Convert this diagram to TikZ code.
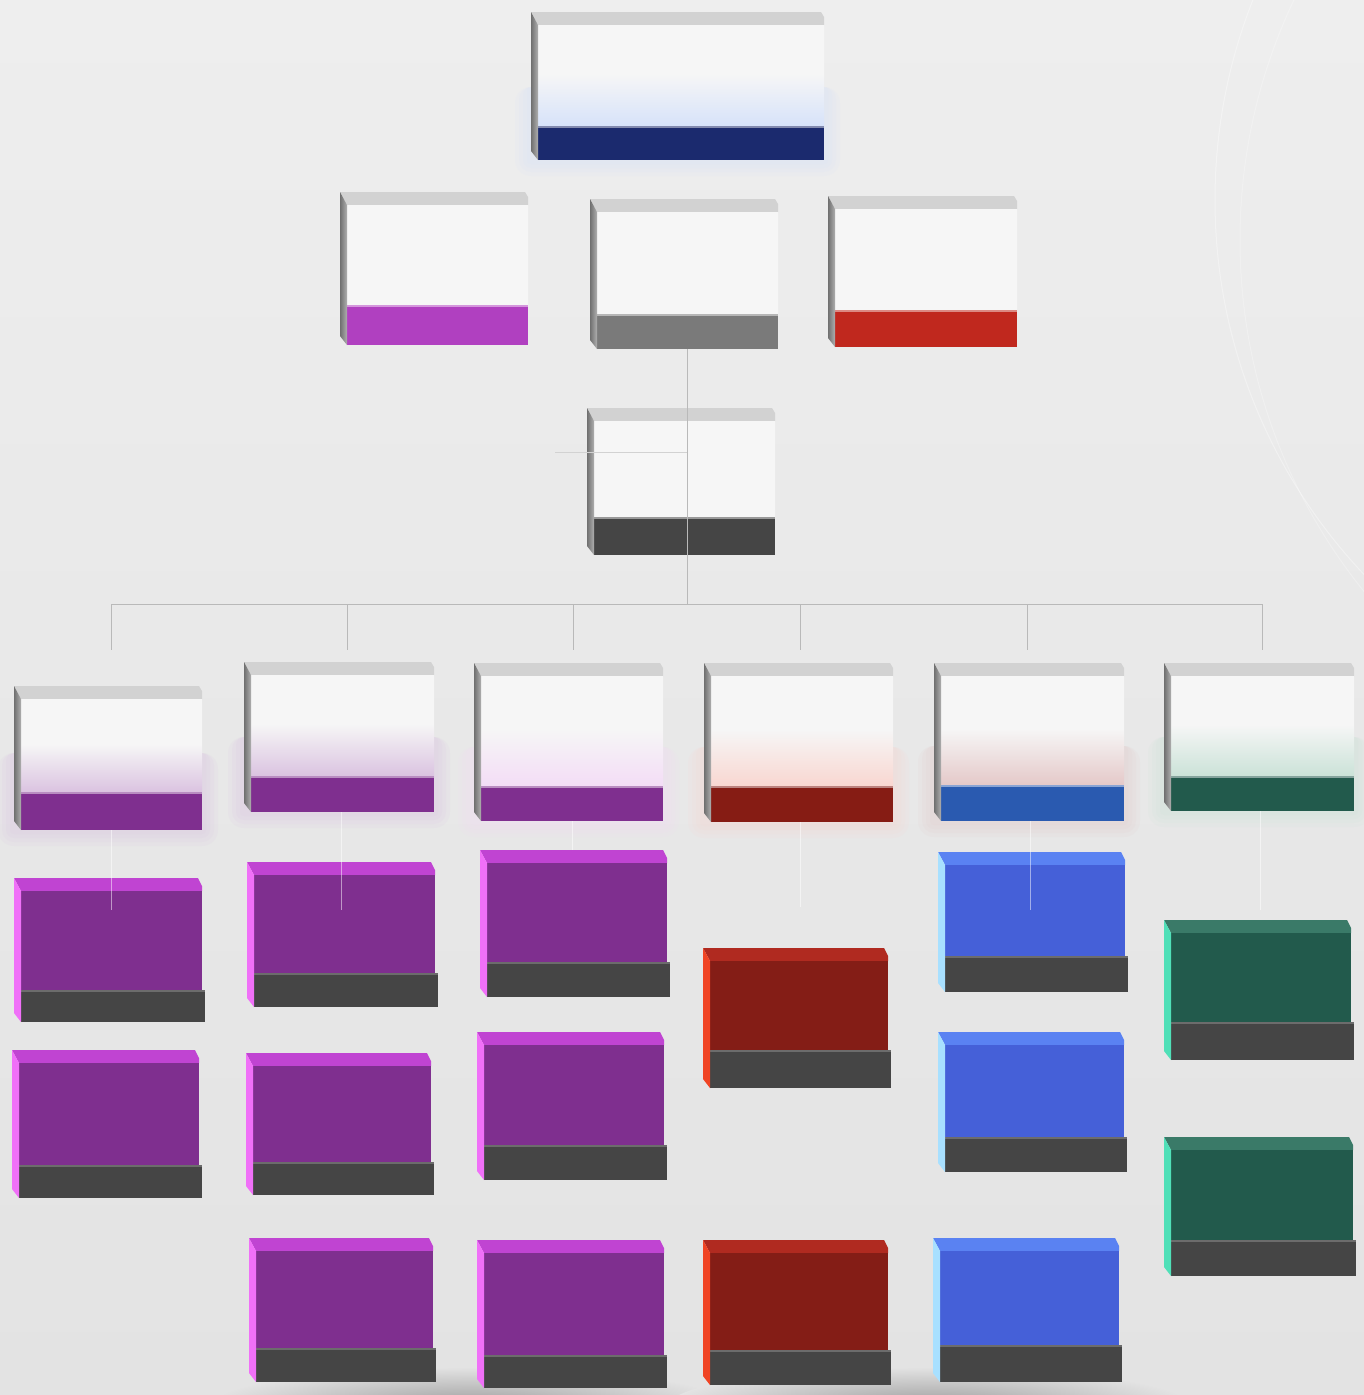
\documentclass[tikz,border=0pt]{standalone}
\usetikzlibrary{calc}
\definecolor{bgc}{HTML}{EAEAEA}
\definecolor{bgtop}{HTML}{EEEEEE}
\definecolor{bgbot}{HTML}{E3E3E3}
\definecolor{facew}{HTML}{F6F6F6}
\definecolor{topg}{HTML}{D2D2D2}
\definecolor{leftg}{HTML}{8C8C8C}
\definecolor{barg}{HTML}{454545}
\definecolor{barhl}{HTML}{6C6C6C}
\definecolor{tnavy}{HTML}{D6E2FA}
\definecolor{bnavy}{HTML}{1B2A6E}
\definecolor{bmag}{HTML}{B040C0}
\definecolor{bgray}{HTML}{7A7A7A}
\definecolor{bred2}{HTML}{C0281E}
\definecolor{tpur}{HTML}{DAC2E0}
\definecolor{tpurb}{HTML}{F3DCF6}
\definecolor{bpur}{HTML}{7F2F8F}
\definecolor{tred}{HTML}{F9D6D0}
\definecolor{bred}{HTML}{861C14}
\definecolor{tblu}{HTML}{E4C8C8}
\definecolor{bblu}{HTML}{2A5AB0}
\definecolor{tgrn}{HTML}{CAE2D7}
\definecolor{bgrn}{HTML}{225A4C}
\definecolor{fpur}{HTML}{7F2F8F}
\definecolor{ppur}{HTML}{C044D2}
\definecolor{lpur}{HTML}{F070F8}
\definecolor{fred}{HTML}{841D16}
\definecolor{pred}{HTML}{B02A20}
\definecolor{lred}{HTML}{F04424}
\definecolor{fblu}{HTML}{4560D8}
\definecolor{pblu}{HTML}{5A82F2}
\definecolor{lblu}{HTML}{A8E0FF}
\definecolor{fgrn}{HTML}{225A4C}
\definecolor{pgrn}{HTML}{3A7A68}
\definecolor{lgrn}{HTML}{50E0B8}
\colorlet{tintc}{facew}
\pgfdeclareverticalshading[tintc,facew]{facegrad}{100bp}{color(0bp)=(tintc); color(25bp)=(tintc); color(51bp)=(facew); color(75bp)=(facew); color(100bp)=(facew)}
\tikzset{
  boxnode/.style={rectangle, inner sep=0pt, outer sep=0pt, draw=none},
  conn/.style={draw=gray!55, line width=0.9pt},
  connfaint/.style={draw=gray!35, line width=0.9pt},
  connlight/.style={draw=white, opacity=0.5, line width=0.9pt},
}
\def\glowop{0.12}
% header box: name, x1, y1, x2, y2, barY, tint, bar colour
\newcommand{\headbox}[8]{%
  \foreach \g in {16,12,8,4}{\fill[#7, opacity=\glowop, rounded corners=\g pt] ({#2-\g},{#6-40}) rectangle ({#4+\g},{#5+\g});}
  \node[boxnode, minimum width={(#4-#2)*1pt}, minimum height={(#5-#3)*1pt}] (#1) at ({(#2+#4)/2},{(#3+#5)/2}) {};
  \fill[topg] (#2,#3) -- ({#4-3},#3) -- (#4,{#3+5}) -- (#4,{#3+13}) -- ({#2+7},{#3+13}) -- cycle;
  \colorlet{tintc}{#7}%
  \shade[shading=facegrad] ({#2+7},{#3+13}) rectangle (#4,#6);
  \fill[#8] ({#2+7},#6) rectangle (#4,#5);
  \draw[#8!55!white, line width=1.2pt] ({#2+7},#6) -- (#4,#6);
  \shade[left color=leftg!80!black, right color=leftg!70!white] (#2,#3) -- ({#2+7},{#3+13}) -- ({#2+7},#5) -- (#2,{#5-9}) -- cycle;
}
% coloured unit box: name, x1, y1, x2, y2, barY, face, top, left
\newcommand{\unitbox}[9]{%
  \node[boxnode, minimum width={(#4-#2)*1pt}, minimum height={(#5-#3)*1pt}] (#1) at ({(#2+#4)/2},{(#3+#5)/2}) {};
  \fill[#8] (#2,#3) -- ({#4-4},#3) -- (#4,{#3+8}) -- (#4,{#3+13}) -- ({#2+7},{#3+13}) -- cycle;
  \fill[#7] ({#2+7},{#3+13}) rectangle (#4,#6);
  \fill[barg] ({#2+7},#6) rectangle ({#4+3},#5);
  \draw[barhl, line width=2pt] ({#2+7},{#6+1}) -- ({#4+3},{#6+1});
  \fill[#9] (#2,#3) -- ({#2+7},{#3+13}) -- ({#2+7},#5) -- (#2,{#5-9}) -- cycle;
}
\begin{document}
\begin{tikzpicture}[x=1pt,y=-1pt]
\useasboundingbox (0,0) rectangle (1364,1395);
\shade[top color=bgtop, bottom color=bgbot] (0,0) rectangle (1364,1395);
\begin{scope}
  \clip (0,0) rectangle (1364,1395);
  \shade[inner color=gray!75, outer color=bgbot] (470,1405) ellipse [x radius=260, y radius=38];
  \shade[inner color=gray!75, outer color=bgbot] (930,1405) ellipse [x radius=260, y radius=38];
  \draw[white, opacity=0.35, line width=1pt] (1760,200) circle [radius=545];
  \draw[white, opacity=0.25, line width=1pt] (1800,240) circle [radius=560];
\end{scope}

% top level
\headbox{ceo}{531}{12}{824}{160}{127}{tnavy}{bnavy}
% second level
\def\glowop{0}
\headbox{sa}{340}{192}{528}{345}{306}{facew}{bmag}
\headbox{sb}{590}{199}{778}{349}{315}{facew}{bgray}
\headbox{sc}{828}{196}{1017}{347}{311}{facew}{bred2}
% third level
\headbox{dd}{587}{408}{775}{555}{518}{facew}{barg}
% department heads
\def\glowop{0.12}
\headbox{h1}{14}{686}{202}{830}{793}{tpur}{bpur}
\headbox{h2}{244}{662}{434}{812}{777}{tpur}{bpur}
\headbox{h3}{474}{663}{663}{821}{787}{tpurb}{bpur}
\headbox{h4}{704}{663}{893}{822}{787}{tred}{bred}
\headbox{h5}{934}{663}{1124}{821}{786}{tblu}{bblu}
\headbox{h6}{1164}{663}{1354}{811}{777}{tgrn}{bgrn}
% units
\unitbox{p11}{14}{878}{202}{1022}{990}{fpur}{ppur}{lpur}
\unitbox{p12}{12}{1050}{199}{1198}{1165}{fpur}{ppur}{lpur}
\unitbox{p21}{247}{862}{435}{1007}{973}{fpur}{ppur}{lpur}
\unitbox{p22}{246}{1053}{431}{1195}{1162}{fpur}{ppur}{lpur}
\unitbox{p23}{249}{1238}{433}{1382}{1348}{fpur}{ppur}{lpur}
\unitbox{p31}{480}{850}{667}{997}{962}{fpur}{ppur}{lpur}
\unitbox{p32}{477}{1032}{664}{1180}{1145}{fpur}{ppur}{lpur}
\unitbox{p33}{477}{1240}{664}{1388}{1355}{fpur}{ppur}{lpur}
\unitbox{r41}{703}{948}{888}{1088}{1050}{fred}{pred}{lred}
\unitbox{r42}{703}{1240}{888}{1385}{1350}{fred}{pred}{lred}
\unitbox{b51}{938}{852}{1125}{992}{956}{fblu}{pblu}{lblu}
\unitbox{b52}{938}{1032}{1124}{1172}{1137}{fblu}{pblu}{lblu}
\unitbox{b53}{933}{1238}{1119}{1382}{1345}{fblu}{pblu}{lblu}
\unitbox{g61}{1164}{920}{1351}{1060}{1022}{fgrn}{pgrn}{lgrn}
\unitbox{g62}{1164}{1137}{1353}{1276}{1240}{fgrn}{pgrn}{lgrn}

% connectors
\coordinate (hub) at (687,604);
\coordinate (bus1) at (111,604);
\coordinate (bus2) at (347,604);
\coordinate (bus3) at (573,604);
\coordinate (bus4) at (800,604);
\coordinate (bus5) at (1027,604);
\coordinate (bus6) at (1262,604);
\coordinate (side) at (555,452);
\draw[conn] (sb.south -| hub) -- (hub);
\draw[connfaint] (side) -- (side -| hub);
\draw[conn] (bus1) -- (bus6);
\foreach \k in {1,...,6}{\draw[conn] (bus\k) -- ++(0,46);}
\coordinate (e1) at (111,910);
\coordinate (e2) at (341,910);
\coordinate (e3) at (572,850);
\coordinate (e4) at (800,907);
\coordinate (e5) at (1030,910);
\coordinate (e6) at (1260,910);
\draw[connlight] (h1.south -| e1) -- (e1);
\draw[connlight] (h2.south -| e2) -- (e2);
\draw[connlight] (h3.south -| e3) -- (e3);
\draw[connlight] (h4.south -| e4) -- (e4);
\draw[connlight] (h5.south -| e5) -- (e5);
\draw[connlight] (h6.south -| e6) -- (e6);
\end{tikzpicture}
\end{document}
